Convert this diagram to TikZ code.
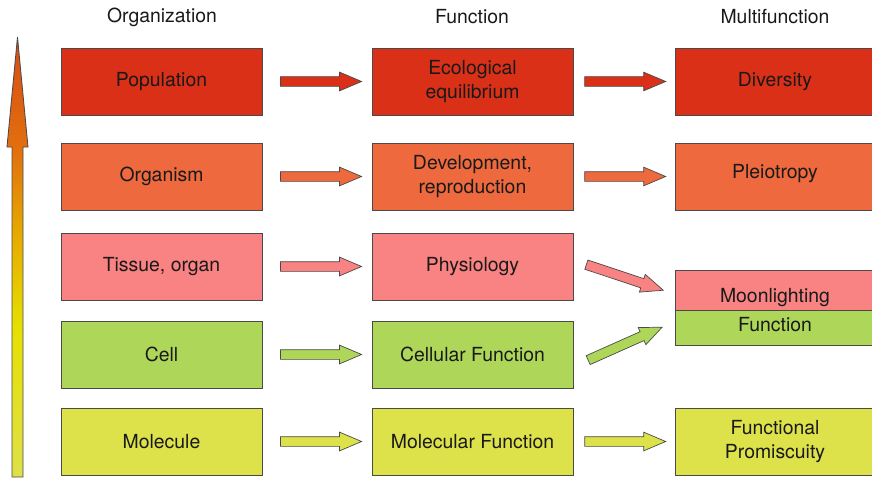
\documentclass[tikz,border=0pt]{standalone}
\usepackage{fontspec}
\setmainfont{TeX Gyre Heros}
\usetikzlibrary{shapes.arrows,calc,positioning}

\definecolor{boxline}{HTML}{4A4A4A}
\definecolor{rowpop}{HTML}{DA3018}
\definecolor{roworg}{HTML}{EE6A3E}
\definecolor{rowtis}{HTML}{F98282}
\definecolor{rowcel}{HTML}{AED75A}
\definecolor{rowmol}{HTML}{DDE24A}
\definecolor{lvltop}{HTML}{D84C14}
\definecolor{lvlred}{HTML}{E2700E}
\definecolor{lvlorg}{HTML}{E6A800}
\definecolor{lvlyel}{HTML}{E6E000}
\definecolor{lvlbot}{HTML}{DEE04A}

\pgfdeclareverticalshading{levelshade}{100bp}{color(0bp)=(lvlbot); color(25bp)=(lvlbot); color(42bp)=(lvlyel); color(53bp)=(lvlorg); color(62bp)=(lvlred); color(75bp)=(lvltop); color(100bp)=(lvltop)}

\begin{document}
\begin{tikzpicture}[x=0.025cm,y=-0.025cm]
\useasboundingbox (0,0) rectangle (872,479);

\tikzstyle{level}=[draw=boxline,line width=0.6pt,minimum width=5.025cm,minimum height=1.675cm,align=center,inner sep=2pt,font=\fontsize{13.8}{16.6}\selectfont,text=black!90]
\tikzstyle{header}=[font=\fontsize{13.8}{16.6}\selectfont,text=black!90]
\tikzstyle{blockarrow}=[single arrow,draw=boxline,line width=0.5pt,minimum height=2.025cm,minimum width=0.45cm,single arrow head extend=0.1125cm,single arrow tip angle=46,inner xsep=0pt,inner ysep=0.1125cm,sloped]

   %headers
   \node (h_org) at (162,17) [header] {Organization};
   \node (h_fun) at (472,17) [header] {Function};
   \node (h_mul) at (775,17) [header] {Multifunction};

   %level arrow
   \shadedraw[shading=levelshade,draw=boxline,line width=0.6pt] (12,477) -- (12,147) -- (7,147) -- (17.5,37) -- (28,147) -- (23,147) -- (23,477) -- cycle;

   %organization
   \node (pop) at (161.5,81.5) [level,fill=rowpop] {Population};
   \node (orgm) at (161.5,176.5) [level,fill=roworg] {Organism};
   \node (tis) at (161.5,266.5) [level,fill=rowtis] {Tissue, organ};
   \node (cel) at (161.5,354.5) [level,fill=rowcel] {Cell};
   \node (mol) at (161.5,441.5) [level,fill=rowmol] {Molecule};

   %function
   \node (eco) at (472.5,81.5) [level,fill=rowpop] {Ecological\\equilibrium};
   \node (dev) at (472.5,176.5) [level,fill=roworg] {Development,\\reproduction};
   \node (phys) at (472.5,266.5) [level,fill=rowtis] {Physiology};
   \node (cfun) at (472.5,354.5) [level,fill=rowcel] {Cellular Function};
   \node (mfun) at (472.5,441.5) [level,fill=rowmol] {Molecular Function};

   %multifunction
   \node (div) at (775,81.5) [level,minimum width=5cm,fill=rowpop] {Diversity};
   \node (plei) at (775,176.5) [level,minimum width=5cm,fill=roworg] {\raisebox{0pt}[\height][\dimexpr\depth+4.2pt]{Pleiotropy}};
   \node (moon) at (775,290) [level,minimum width=5cm,minimum height=1cm,inner sep=0pt,fill=rowtis] {\raisebox{0pt}[\dimexpr\height+11pt][\depth]{Moonlighting}};
   \node (moonfun) at (775,327.5) [level,minimum width=5cm,minimum height=0.875cm,inner sep=0pt,fill=rowcel] {\raisebox{0pt}[\height][\dimexpr\depth+4.2pt]{Function}};
   \node (prom) at (775,441.5) [level,minimum width=5cm,fill=rowmol] {Functional\\Promiscuity};

   %arrows organization -> function
   \path (pop.east) -- node[pos=0.485,blockarrow,fill=rowpop] {} (eco.west);
   \path (orgm.east) -- node[pos=0.485,blockarrow,fill=roworg] {} (dev.west);
   \path (tis.east) -- node[pos=0.485,blockarrow,fill=rowtis] {} (phys.west);
   \path (cel.east) -- node[pos=0.485,blockarrow,fill=rowcel] {} (cfun.west);
   \path (mol.east) -- node[pos=0.485,blockarrow,fill=rowmol] {} (mfun.west);

   %arrows function -> multifunction
   \path (eco.east) -- node[pos=0.455,blockarrow,fill=rowpop] {} (div.west);
   \path (dev.east) -- node[pos=0.455,blockarrow,fill=roworg] {} (plei.west);
   \path (mfun.east) -- node[pos=0.455,blockarrow,fill=rowmol] {} (prom.west);

   \coordinate (phys_out) at ($(phys.east)+(14,-1.5)$);
   \coordinate (moon_in) at ($(moon.west)+(-12,0)$);
   \path (phys_out) -- node[pos=0.425,blockarrow,fill=rowtis] {} (moon_in);
   \coordinate (cfun_out) at ($(cfun.east)+(15,5.5)$);
   \coordinate (moonfun_in) at ($(moonfun.west)+(-12,-0.5)$);
   \path (cfun_out) -- node[pos=0.425,blockarrow,fill=rowcel] {} (moonfun_in);

\end{tikzpicture}
\end{document}
